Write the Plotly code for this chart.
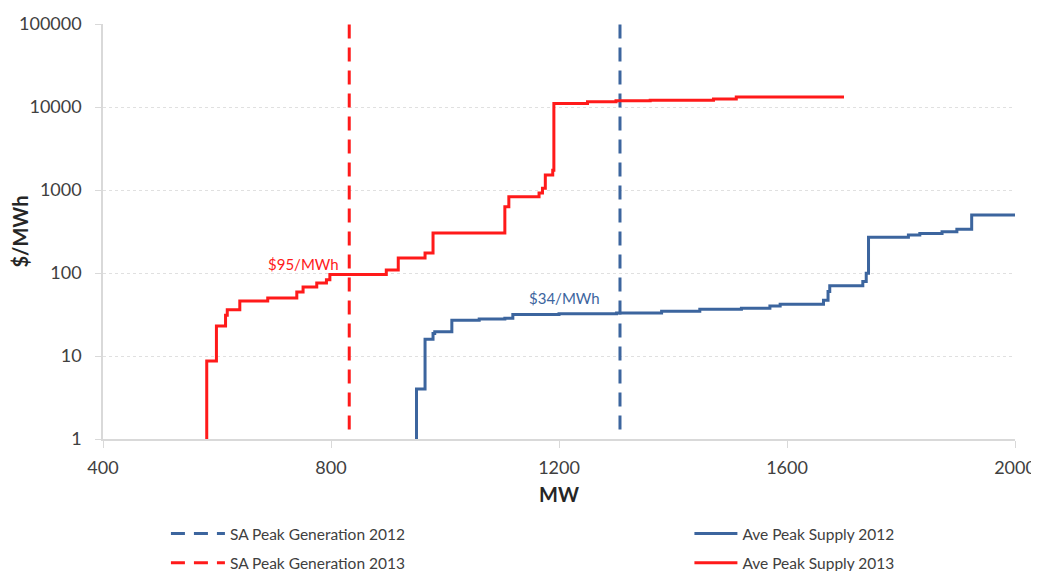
import math
import plotly.graph_objects as go

# ---- data ----
mw_2013 = [582, 582, 599, 615, 618, 640, 689, 740, 751, 775, 792, 798, 897, 918, 965, 979,
           1105, 1112, 1165, 1171, 1176, 1189, 1191, 1250, 1300, 1360, 1471, 1511, 1700]
price_2013 = [1, 8.7, 23, 31, 36, 46, 50, 59, 68, 76, 83, 96, 109, 152, 174, 304,
              630, 830, 920, 1050, 1520, 1730, 11000, 11600, 11900, 12100, 12500, 13200, 13200]

mw_2012 = [950, 950, 965, 979, 982, 1012, 1060, 1105, 1119, 1200, 1301, 1380, 1447, 1520,
           1570, 1588, 1664, 1672, 1675, 1733, 1739, 1743, 1813, 1833, 1872, 1898, 1924, 2000]
price_2012 = [1, 4.0, 15.9, 18.7, 19.6, 27, 28, 28.5, 31.7, 32.3, 33, 34.5, 36.5, 37.5,
              40, 42, 47, 60, 70, 79, 99, 270, 287, 300, 313, 336, 500, 500]

peak_gen_2012 = 1307
peak_gen_2013 = 832
vline_y = [1.3, 100000]

label_text = ["$95/MWh", "$34/MWh"]
label_x = [751, 1210]
label_y = [128, 50]

y_ticks = [1, 10, 100, 1000, 10000, 100000]
y_ticktext = ["1", "10", "100", "1000", "10000", "100000"]
x_ticks = [400, 800, 1200, 1600, 2000]

RED = "#FF1A1A"
BLUE = "#3C659E"
FONT = "Lato"

fig = go.Figure()

fig.add_trace(go.Scatter(x=[peak_gen_2012, peak_gen_2012], y=vline_y, mode="lines",
                         name="SA Peak Generation 2012", legend="legend", legendgroup="a",
                         line=dict(color=BLUE, width=3, dash="14px,9px")))
fig.add_trace(go.Scatter(x=[peak_gen_2013, peak_gen_2013], y=vline_y, mode="lines",
                         name="SA Peak Generation 2013", legend="legend", legendgroup="b",
                         line=dict(color=RED, width=3, dash="14px,9px")))
fig.add_trace(go.Scatter(x=mw_2012, y=price_2012, mode="lines", line_shape="hv",
                         name="Ave Peak Supply 2012", legend="legend2", legendgroup="c",
                         line=dict(color=BLUE, width=3)))
fig.add_trace(go.Scatter(x=mw_2013, y=price_2013, mode="lines", line_shape="hv",
                         name="Ave Peak Supply 2013", legend="legend2", legendgroup="d",
                         line=dict(color=RED, width=3)))

for t, x, y, c in zip(label_text, label_x, label_y, [RED, BLUE]):
    fig.add_annotation(x=x, y=math.log10(y), yref="y", xref="x", text=t, showarrow=False,
                       font=dict(family=FONT, size=15, color=c), yanchor="middle")

leg_font = dict(family=FONT, size=15.5, color="#404040")

fig.update_layout(
    width=1031, height=563,
    margin=dict(l=95, r=24, t=16, b=132, autoexpand=False),
    paper_bgcolor="white", plot_bgcolor="white",
    font=dict(family=FONT, color="#404040"),
    legend=dict(x=0.069, y=-0.188, orientation="v", font=leg_font, bgcolor="rgba(0,0,0,0)",
                tracegroupgap=6, itemwidth=54, xanchor="left", yanchor="top"),
    legend2=dict(x=0.643, y=-0.188, orientation="v", font=leg_font, bgcolor="rgba(0,0,0,0)",
                 tracegroupgap=6, itemwidth=43, xanchor="left", yanchor="top"),
    xaxis=dict(range=[400, 2000], tickvals=x_ticks, showgrid=False, automargin=False,
               showline=True, linecolor="#D9D9D9", linewidth=1.5,
               ticks="outside", tickcolor="#D9D9D9", ticklen=7, ticklabelstandoff=5,
               tickfont=dict(family=FONT, size=18, color="#404040"),
               title=dict(text="<b>MW</b>", font=dict(family=FONT, size=20, color="#262626"), standoff=11),
               zeroline=False),
    yaxis=dict(type="log", range=[0, 5], tickvals=y_ticks, ticktext=y_ticktext, automargin=False,
               showgrid=True, gridcolor="#E0E0E0", griddash="dot", gridwidth=1,
               showline=True, linecolor="#D9D9D9", linewidth=1.5,
               ticks="outside", tickcolor="#D9D9D9", ticklen=6, ticklabelstandoff=10,
               tickfont=dict(family=FONT, size=18, color="#404040"),
               title=dict(text="<b>$/MWh</b>", font=dict(family=FONT, size=20, color="#262626"), standoff=0),
               zeroline=False),
)

fig.write_html("out.html")
